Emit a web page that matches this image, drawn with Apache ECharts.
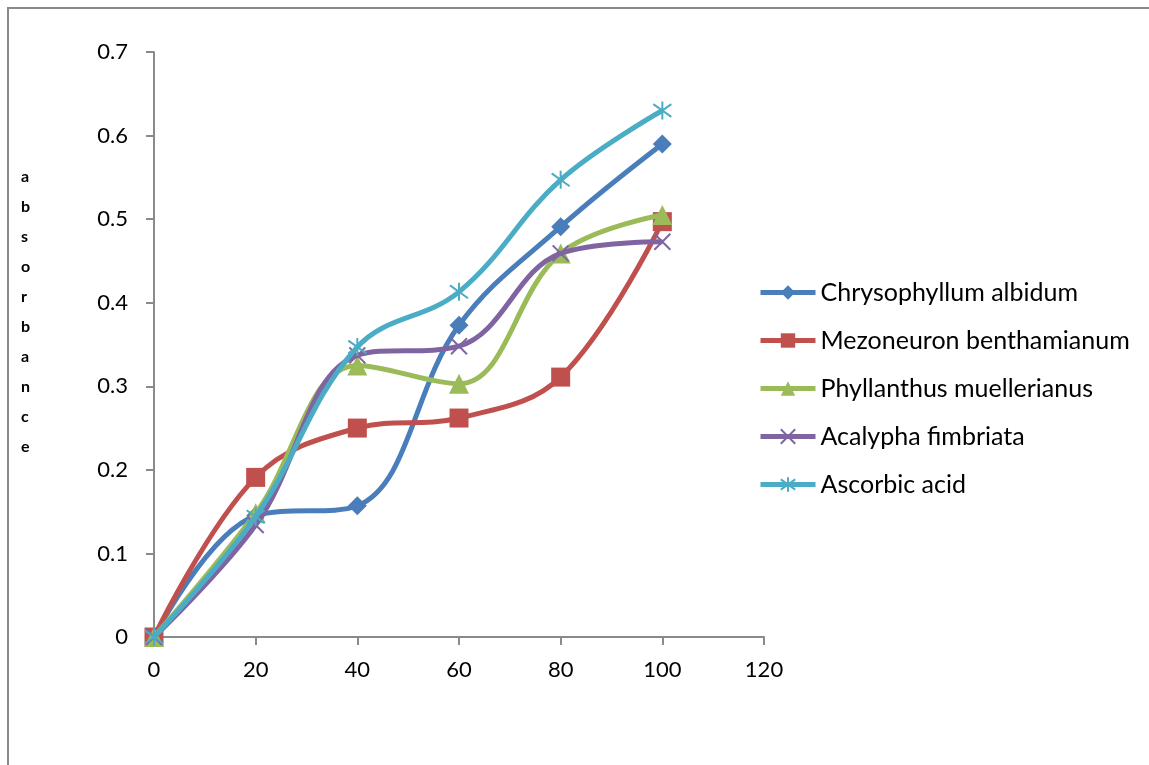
<!DOCTYPE html>
<html>
<head>
<meta charset="utf-8">
<script src="https://cdn.jsdelivr.net/npm/echarts@6/dist/echarts.min.js"></script>
<style>html,body{margin:0;padding:0;background:#fff;}#c{width:1149px;height:765px;}</style>
</head>
<body>
<div id="c"></div>
<script>
var xValues = [0, 20, 40, 60, 80, 100];
var seriesNames = ['Chrysophyllum albidum', 'Mezoneuron benthamianum', 'Phyllanthus muellerianus', 'Acalypha fimbriata', 'Ascorbic acid'];
var chrysophyllum = [0, 0.145, 0.157, 0.373, 0.491, 0.590];
var mezoneuron = [0, 0.191, 0.250, 0.262, 0.311, 0.497];
var phyllanthus = [0, 0.148, 0.325, 0.303, 0.459, 0.505];
var acalypha = [0, 0.134, 0.337, 0.348, 0.459, 0.473];
var ascorbic = [0, 0.144, 0.347, 0.413, 0.547, 0.630];
var yAxisTitle = 'absorbance';

var colors = ['#4A7EBB', '#C0504D', '#9BBB59', '#8064A2', '#4BACC6'];
var symbols = ['diamond', 'rect', 'triangle',
  'path://M0,0L10,10M10,0L0,10',
  'path://M0,0L10,10M10,0L0,10M5,-2L5,12'];
var symbolSizes = [19, 19, 20, 16, 18];
var allData = [chrysophyllum, mezoneuron, phyllanthus, acalypha, ascorbic];

var font = 'Lato, Calibri, sans-serif';
var series = allData.map(function (vals, i) {
  var isPath = i >= 3;
  return {
    name: seriesNames[i],
    type: 'line',
    smooth: 0.38,
    data: xValues.map(function (x, j) { return [x, vals[j]]; }),
    symbol: symbols[i],
    symbolSize: symbolSizes[i],
    showAllSymbol: true,
    lineStyle: { color: colors[i], width: 5 },
    itemStyle: {
      color: isPath ? 'none' : colors[i],
      borderColor: colors[i],
      borderWidth: isPath ? 2 : 0
    },
    emphasis: { disabled: true },
    z: 2 + i
  };
});

var chart = echarts.init(document.getElementById('c'), null, { renderer: 'canvas' });
chart.setOption({
  animation: false,
  backgroundColor: '#fff',
  grid: { left: 154, right: 385, top: 52, bottom: 128, containLabel: false },
  xAxis: {
    type: 'value', min: 0, max: 120, interval: 20,
    axisLine: { show: true, lineStyle: { color: '#8a8a8a', width: 2 } },
    axisTick: { show: true, inside: false, length: 8, lineStyle: { color: '#8a8a8a', width: 2 } },
    axisLabel: { color: '#000', fontSize: 22, fontFamily: font, margin: 22 },
    splitLine: { show: false }
  },
  yAxis: {
    type: 'value', min: 0, max: 0.7, interval: 0.1,
    axisLine: { show: true, lineStyle: { color: '#8a8a8a', width: 2 } },
    axisTick: { show: true, inside: false, length: 8, lineStyle: { color: '#8a8a8a', width: 2 } },
    axisLabel: { color: '#000', fontSize: 22, fontFamily: font, margin: 26,
      formatter: function (v) { return v === 0 ? '0' : (Math.round(v * 10) / 10).toString(); } },
    splitLine: { show: false }
  },
  legend: {
    orient: 'vertical', left: 758, top: 280, padding: 0,
    itemWidth: 55, itemHeight: 18, itemGap: 23,
    data: seriesNames,
    lineStyle: { width: 5 },
    textStyle: { color: '#000', fontSize: 25, fontFamily: font, lineHeight: 25 },
    selectedMode: false
  },
  graphic: [
    { type: 'rect', shape: { x: 8, y: 8, width: 1200, height: 800 },
      style: { fill: 'none', stroke: '#8a8a8a', lineWidth: 2 }, silent: true },
    { type: 'text', left: 21, top: 162,
      style: { text: yAxisTitle.split('').join('\n'), fontSize: 16, fontWeight: 'bold',
        fontFamily: font, fill: '#000', lineHeight: 30, align: 'center' } }
  ],
  series: series
});
</script>
</body>
</html>
